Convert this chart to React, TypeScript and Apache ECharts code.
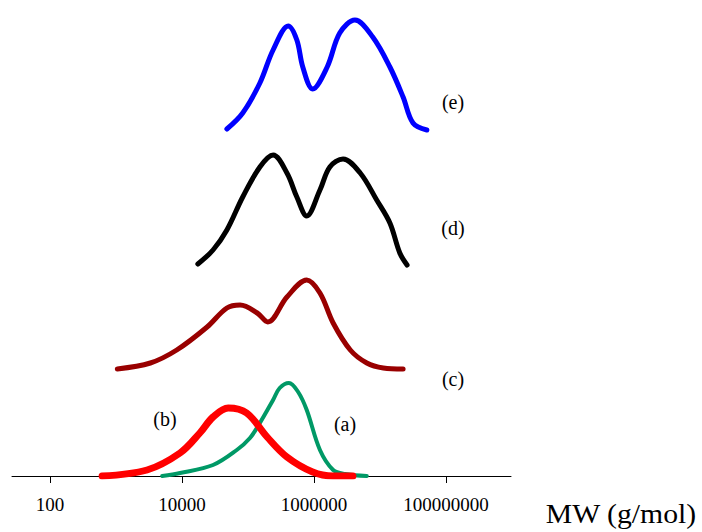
import React, { useEffect, useRef } from "react";
import * as echarts from "echarts";

// x values are log10(MW); y values are detector signal (arbitrary units, stacked offsets)
const tickLogMW = [2, 4, 6, 8];

const aLogMW = [3.7, 3.97, 4.47, 4.83, 5.03, 5.18, 5.38, 5.48, 5.62, 5.76, 5.89, 6.09, 6.29, 6.47, 6.8];
const aSignal = [0, 3, 11, 26, 38, 53, 76, 88, 93, 84, 66, 26, 6, 2, 0];

const bLogMW = [2.79, 3.47, 3.97, 4.27, 4.47, 4.7, 4.98, 5.29, 5.59, 5.98, 6.29, 6.59];
const bSignal = [0, 6, 23, 43, 59, 68, 63, 39, 19, 4, 0, 0];

const cLogMW = [3.02, 3.52, 3.92, 4.38, 4.68, 4.88, 5.14, 5.3, 5.59, 5.89, 6.09, 6.29, 6.55, 6.8, 7.05, 7.35];
const cSignal = [107, 113, 126, 149, 168, 171, 163, 154, 179, 196, 183, 153, 126, 113, 108, 107];

const dLogMW = [4.24, 4.47, 4.68, 4.92, 5.18, 5.38, 5.59, 5.74, 5.89, 6.09, 6.24, 6.44, 6.7, 6.95, 7.15, 7.3, 7.41];
const dSignal = [212, 226, 246, 279, 309, 321, 303, 279, 260, 286, 309, 317, 303, 276, 253, 223, 211];

const eLogMW = [4.68, 4.92, 5.18, 5.38, 5.61, 5.74, 5.83, 5.98, 6.2, 6.39, 6.62, 6.89, 7.15, 7.35, 7.5, 7.71];
const eSignal = [347, 363, 393, 426, 450, 436, 409, 387, 409, 443, 456, 439, 409, 379, 353, 346];

const seriesNames = ["(a)", "(b)", "(c)", "(d)", "(e)"];
const seriesColors = ["#009966", "#ff0000", "#990000", "#000000", "#0000ff"];
const seriesWidths = [4, 7, 5, 5, 5];

const zip = (xs: number[], ys: number[]) => xs.map((x, i) => [x, ys[i]]);

export default function App() {
  const ref = useRef<HTMLDivElement>(null);
  useEffect(() => {
    document.body.style.margin = "0";
    if (!ref.current) return;
    const chart = echarts.init(ref.current, null, { renderer: "svg" });
    const datasets = [
      zip(aLogMW, aSignal),
      zip(bLogMW, bSignal),
      zip(cLogMW, cSignal),
      zip(dLogMW, dSignal),
      zip(eLogMW, eSignal),
    ];
    const serif = "Liberation Serif";
    const label = (text: string, x: number, y: number) => ({
      type: "text",
      x,
      y,
      style: { text, font: `20px "${serif}"`, fill: "#000", align: "center", verticalAlign: "middle" },
    });
    chart.setOption({
      animation: false,
      backgroundColor: "#ffffff",
      grid: { left: 12, right: 191, top: 10, bottom: 56 },
      xAxis: {
        type: "value",
        min: 1.424,
        max: 8.985,
        splitLine: { show: false },
        axisLine: { lineStyle: { color: "#000", width: 1 } },
        axisTick: { show: true, length: 7, customValues: tickLogMW, lineStyle: { color: "#000" } },
        axisLabel: {
          customValues: tickLogMW,
          margin: 19,
          fontFamily: serif,
          fontSize: 19,
          color: "#000",
          formatter: (v: number) => String(Math.round(Math.pow(10, v))),
        },
      },
      yAxis: {
        type: "value",
        min: 0,
        max: 466,
        show: false,
      },
      series: datasets.map((d, i) => ({
        name: seriesNames[i],
        type: "line",
        data: d,
        smooth: 0.35,
        showSymbol: false,
        symbol: "none",
        z: i === 1 ? 3 : 2,
        lineStyle: { color: seriesColors[i], width: seriesWidths[i], cap: "round", join: "round" },
      })),
      graphic: [
        label("(a)", 345, 424),
        label("(b)", 165, 419),
        label("(c)", 453, 379),
        label("(d)", 453, 228),
        label("(e)", 453, 102),
        {
          type: "text",
          x: 621,
          y: 514,
          scaleX: 1.1,
          style: { text: "MW (g/mol)", font: `27px "${serif}"`, fill: "#000", align: "center", verticalAlign: "middle" },
        },
      ],
    });
    return () => chart.dispose();
  }, []);
  return <div ref={ref} style={{ width: 702, height: 532 }} />;
}
